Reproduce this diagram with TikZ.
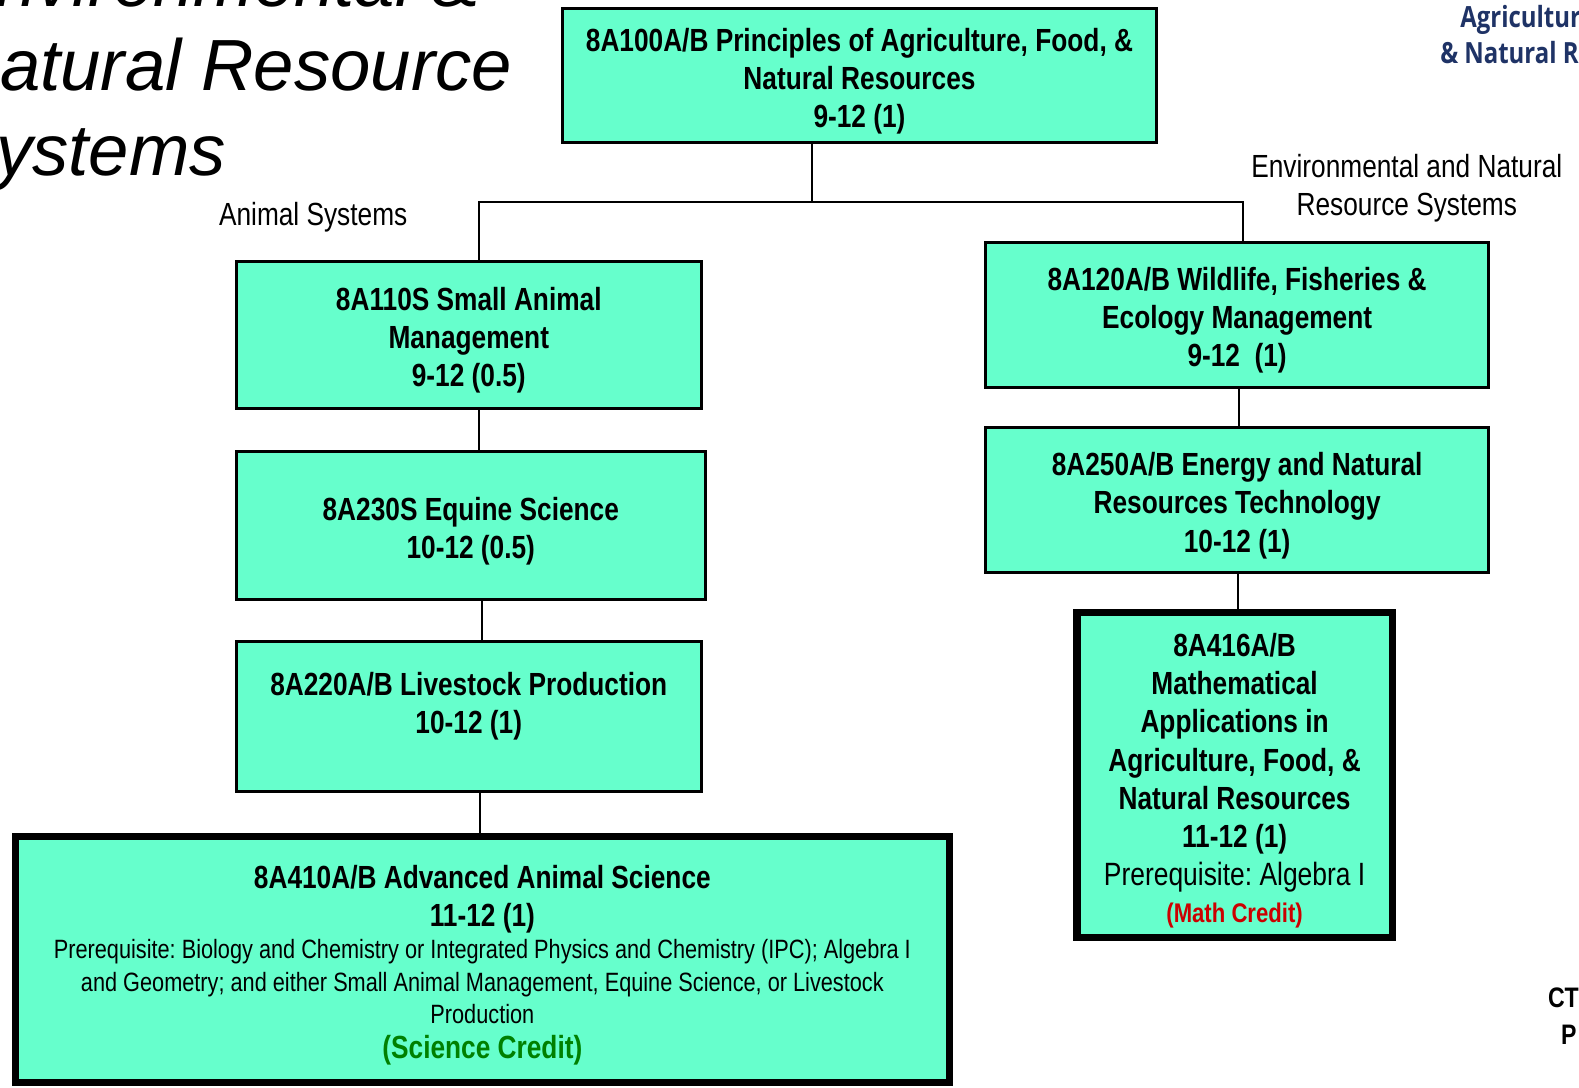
\documentclass[tikz,border=0pt]{standalone}
\usepackage{fontspec}
\setmainfont{Liberation Sans}[FakeStretch=0.82]
\newfontfamily\titlefont{Liberation Sans}
\newfontfamily\brandfont{Open Sans}[FakeStretch=0.82]
\frenchspacing
\usetikzlibrary{positioning, calc}
\definecolor{CourseAqua}{HTML}{66FFCC}
\definecolor{CreditGreen}{HTML}{008000}
\definecolor{CreditRed}{HTML}{CC0000}
\definecolor{BrandNavy}{HTML}{1F3366}
\tikzset{
  % Box styles
  coursebox/.style={rectangle, draw=black, line width=3pt, fill=CourseAqua, inner sep=0pt, align=flush center, font=\fontsize{31.8}{38}\selectfont\bfseries\frenchspacing, execute at begin node={\rule{0pt}{34pt}}},
  keybox/.style={coursebox, line width=7pt},
  % Connector styles
  link/.style={line width=2pt, black},
  % Label styles
  pathlabel/.style={font=\fontsize{31.8}{38}\selectfont, align=center, inner sep=0pt}
}

\begin{document}
\begin{tikzpicture}[x=1pt, y=-1pt]
  \useasboundingbox (0,0) rectangle (1568,1080);
  \fill[white] (0,0) rectangle (1568,1080);
  \clip (0,0) rectangle (1568,1080);

  % Title
  \node[anchor=base west, align=left, inner sep=0pt, font=\titlefont\itshape\fontsize{72}{84}\selectfont] (title) at (-52,174) {Environmental \&\\Natural Resource\\Systems};
  \node[anchor=base west, inner sep=0pt, font=\brandfont\bfseries\fontsize{29}{36}\selectfont, text=BrandNavy] (brandtop) at (1450,27) {Agriculture};
  \node[anchor=base west, inner sep=0pt, font=\brandfont\bfseries\fontsize{29}{36}\selectfont, text=BrandNavy] (brandbot) at (1430,63) {\& Natural Resources};

  % Courses
  \node[coursebox, minimum width=590pt, minimum height=133pt, text width=570pt] (principles) at (853.5,75) {8A100A/B Principles of Agriculture, Food, \&\\Natural Resources\\9-12 (1)};

  \node[coursebox, minimum width=462pt, minimum height=146pt, text width=440pt] (small) at (465.5,332.5) {8A110S Small Animal\\Management\\9-12 (0.5)};
  \node[coursebox, minimum width=466pt, minimum height=147pt, text width=440pt] (equine) at (467.5,522) {8A230S Equine Science\\10-12 (0.5)};
  \node[coursebox, minimum width=462pt, minimum height=148pt, text width=440pt] (livestock) at (465.5,711.5) {8A220A/B Livestock Production\\10-12 (1)\\\mbox{}};
  \node[keybox, minimum width=927pt, minimum height=244pt, text width=900pt] (advanced) at (479,953) {8A410A/B Advanced Animal Science\\11-12 (1)\par
    {\mdseries\fontsize{26.3}{32}\selectfont Prerequisite: Biology and Chemistry or Integrated Physics and Chemistry (IPC); Algebra I\\and Geometry; and either Small Animal Management, Equine Science, or Livestock\\Production\par}
    {\color{CreditGreen}\fontsize{31.8}{35}\selectfont (Science Credit)\par}};

  \node[coursebox, minimum width=500pt, minimum height=144pt, text width=480pt] (wildlife) at (1228.5,312.5) {8A120A/B Wildlife, Fisheries \&\\Ecology Management\\9-12\ \ (1)};
  \node[coursebox, minimum width=500pt, minimum height=144pt, text width=480pt] (energy) at (1228.5,496.5) {8A250A/B Energy and Natural\\Resources Technology\\10-12 (1)};
  \node[keybox, minimum width=313pt, minimum height=322pt, text width=300pt] (math) at (1226,769.5) {8A416A/B\\Mathematical\\Applications in\\Agriculture, Food, \&\\Natural Resources\\11-12 (1)\par
    {\mdseries\fontsize{32}{38}\selectfont Prerequisite: Algebra I\par}
    {\color{CreditRed}\fontsize{26.8}{36}\selectfont (Math Credit)\par}};

  % Pathway labels
  \node[pathlabel] (animal) at (311,216) {Animal Systems};
  \node[pathlabel] (enviro) at (1397,187) {Environmental and Natural\\Resource Systems};

  % Connectors
  \coordinate (split) at (806,201);
  \draw[link] (principles.south -| split) -- (split);
  \draw[link] ([xshift=10pt]small.north) |- (split) -| ([xshift=5.5pt]wildlife.north);
  \draw[link] ([xshift=10.5pt]small.south) -- ([xshift=10.5pt]small.south |- equine.north);
  \draw[link] ([xshift=11.5pt]equine.south) -- ([xshift=11.5pt]equine.south |- livestock.north);
  \draw[link] ([xshift=11.5pt]livestock.south) -- ([xshift=11.5pt]livestock.south |- advanced.north);
  \draw[link] ([xshift=1.5pt]wildlife.south) -- ([xshift=1.5pt]wildlife.south |- energy.north);
  \draw[link] ([xshift=0.5pt]energy.south) -- ([xshift=0.5pt]energy.south |- math.north);

  % Corner note
  \node[anchor=base west, inner sep=0pt, font=\bfseries\fontsize{28}{36}\selectfont] (notetop) at (1537,1000) {CT};
  \node[anchor=base west, inner sep=0pt, font=\bfseries\fontsize{28}{36}\selectfont] (notebot) at (1550,1037) {P};
\end{tikzpicture}
\end{document}
